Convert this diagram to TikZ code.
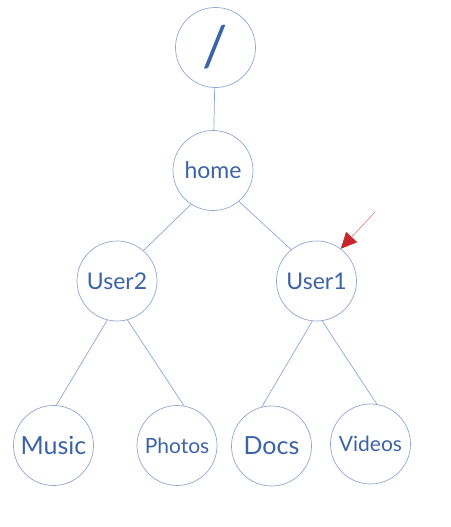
\documentclass[tikz,border=0pt]{standalone}
\usepackage{fontspec}
\setmainfont{Lato}
\usetikzlibrary{arrows.meta}
\definecolor{dirblue}{HTML}{3C63A8}
\definecolor{edgeblue}{HTML}{8FA6D2}
\definecolor{arrowred}{HTML}{C4262B}
\begin{document}
\begin{tikzpicture}[x=1pt, y=1pt,
          dir/.style={circle, draw=edgeblue, line width=0.7pt, minimum size=80pt, inner sep=0pt, text=dirblue, font=\fontsize{23}{26}\selectfont},
          bigdir/.style={dir, font=\fontsize{25}{28}\selectfont},
          smalldir/.style={dir, font=\fontsize{21}{24}\selectfont},
          link/.style={draw=edgeblue, line width=0.7pt}]
            \useasboundingbox (0,0) rectangle (450,527);
            % Level 0
            \node[dir, font=\fontsize{56}{60}\selectfont] (root) at (215.5,479.5) {/};
            % Level 1
            \node[dir] (home) at (213,356.5) {home};
            % Level 2
            \node[dir] (user2) at (117,246) {User2};
            \node[dir] (user1) at (316.5,246) {User1};
            % Level 3
            \node[bigdir] (music) at (53.5,81.5) {Music};
            \node[smalldir] (photos) at (177,81.5) {Photos};
            \node[bigdir] (docs) at (271.5,81) {Docs};
            \node[smalldir] (videos) at (370.5,83) {Videos};
            % edges
            \draw[link] (root) -- (home);
            \draw[link] (home.-123) -- (user2.49);
            \draw[link] (home.-50) -- (user1.129);
            \draw[link] (user2.-104) -- (music.86);
            \draw[link] (user2.-75) -- (photos.80);
            \draw[link] (user1.-96) -- (docs.104);
            \draw[link] (user1.-82) -- (videos.81);
            % marker
            \coordinate (mark) at (375,315);
            \draw[draw=arrowred!60, line width=0.6pt, -{Triangle[length=16pt, width=15pt, color=arrowred]}] (mark) -- (user1.53);
        \end{tikzpicture}
\end{document}
